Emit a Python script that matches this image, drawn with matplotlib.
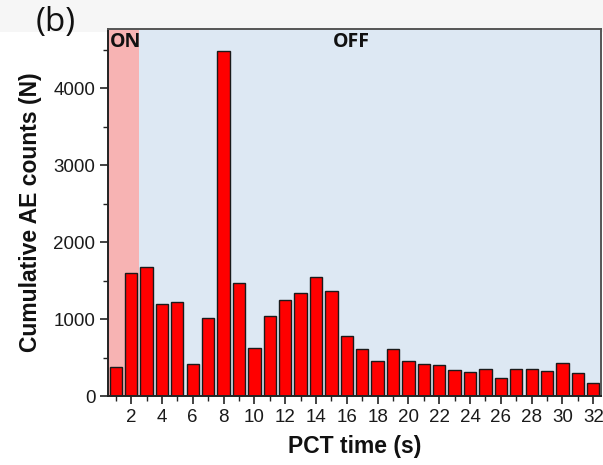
import matplotlib
matplotlib.use("Agg")
import matplotlib.pyplot as plt
from matplotlib.patches import Rectangle
from matplotlib.ticker import MultipleLocator

# PCT time bins (s) and cumulative AE counts per bin
times = list(range(1, 33))
counts = [380, 1600, 1680, 1190, 1225, 420, 1010, 4480,
          1470, 620, 1035, 1245, 1340, 1545, 1365, 785,
          615, 460, 615, 460, 410, 405, 340, 315,
          355, 240, 345, 345, 330, 430, 305, 175]

on_span = (0.5, 2.5)
off_span = (2.5, 32.5)
phase_labels = ["ON", "OFF"]

W, H = 603, 465
fig = plt.figure(figsize=(W / 100, H / 100), dpi=100)
fig.patch.set_facecolor("white")

# light header strip behind the panel letter
fig.add_artist(Rectangle((0, 1 - 32 / H), 1, 32 / H, transform=fig.transFigure,
                         facecolor="#f6f6f6", edgecolor="none", zorder=-1))

ax = fig.add_axes([108 / W, (H - 396) / H, (601 - 108) / W, (396 - 29) / H])
ax.set_xlim(0.5, 32.5)
ax.set_ylim(0, 4770)

ax.axvspan(*on_span, facecolor="#f7b3b3", edgecolor="none", zorder=0)
ax.axvspan(*off_span, facecolor="#dde8f3", edgecolor="none", zorder=0)

ax.bar(times, counts, width=0.8, color="#ff0000", edgecolor="#1a1a1a",
       linewidth=1.0, zorder=2)

ax.xaxis.set_major_locator(MultipleLocator(2))
ax.xaxis.set_minor_locator(MultipleLocator(1))
ax.yaxis.set_major_locator(MultipleLocator(1000))
ax.yaxis.set_minor_locator(MultipleLocator(500))
ax.tick_params(which="major", direction="out", length=6, width=1.2,
               color="#222222", labelsize=13.5, pad=3)
ax.tick_params(which="minor", direction="out", length=3.5, width=1.0,
               color="#222222")
for lab in ax.get_xticklabels() + ax.get_yticklabels():
    lab.set_fontfamily("Liberation Sans")
    lab.set_color("#1a1a1a")

for side in ("left", "bottom"):
    ax.spines[side].set_color("#222222")
    ax.spines[side].set_linewidth(1.4)
for side in ("top", "right"):
    ax.spines[side].set_color("#555555")
    ax.spines[side].set_linewidth(1.4)

ax.set_xlabel("PCT time (s)", fontfamily="Liberation Sans", fontweight="bold",
              fontsize=16.5, labelpad=7, color="#111111")
ax.set_ylabel("Cumulative AE counts (N)", fontfamily="Liberation Sans",
              fontweight="bold", fontsize=16.5, labelpad=8, color="#111111")

ax.text(0.6, 0.993, phase_labels[0], transform=ax.get_xaxis_transform(),
        ha="left", va="top", fontfamily="Open Sans", fontweight="bold",
        fontsize=14, color="#111111", zorder=3)
ax.text(16.3, 0.993, phase_labels[1], transform=ax.get_xaxis_transform(),
        ha="center", va="top", fontfamily="Open Sans", fontweight="bold",
        fontsize=14, color="#111111", zorder=3)

fig.text(56 / W, 1 - 22 / H, "(b)", ha="center", va="center",
         fontfamily="Open Sans", fontsize=24, color="#111111")

fig.savefig("out.png", dpi=100, facecolor=fig.get_facecolor())
